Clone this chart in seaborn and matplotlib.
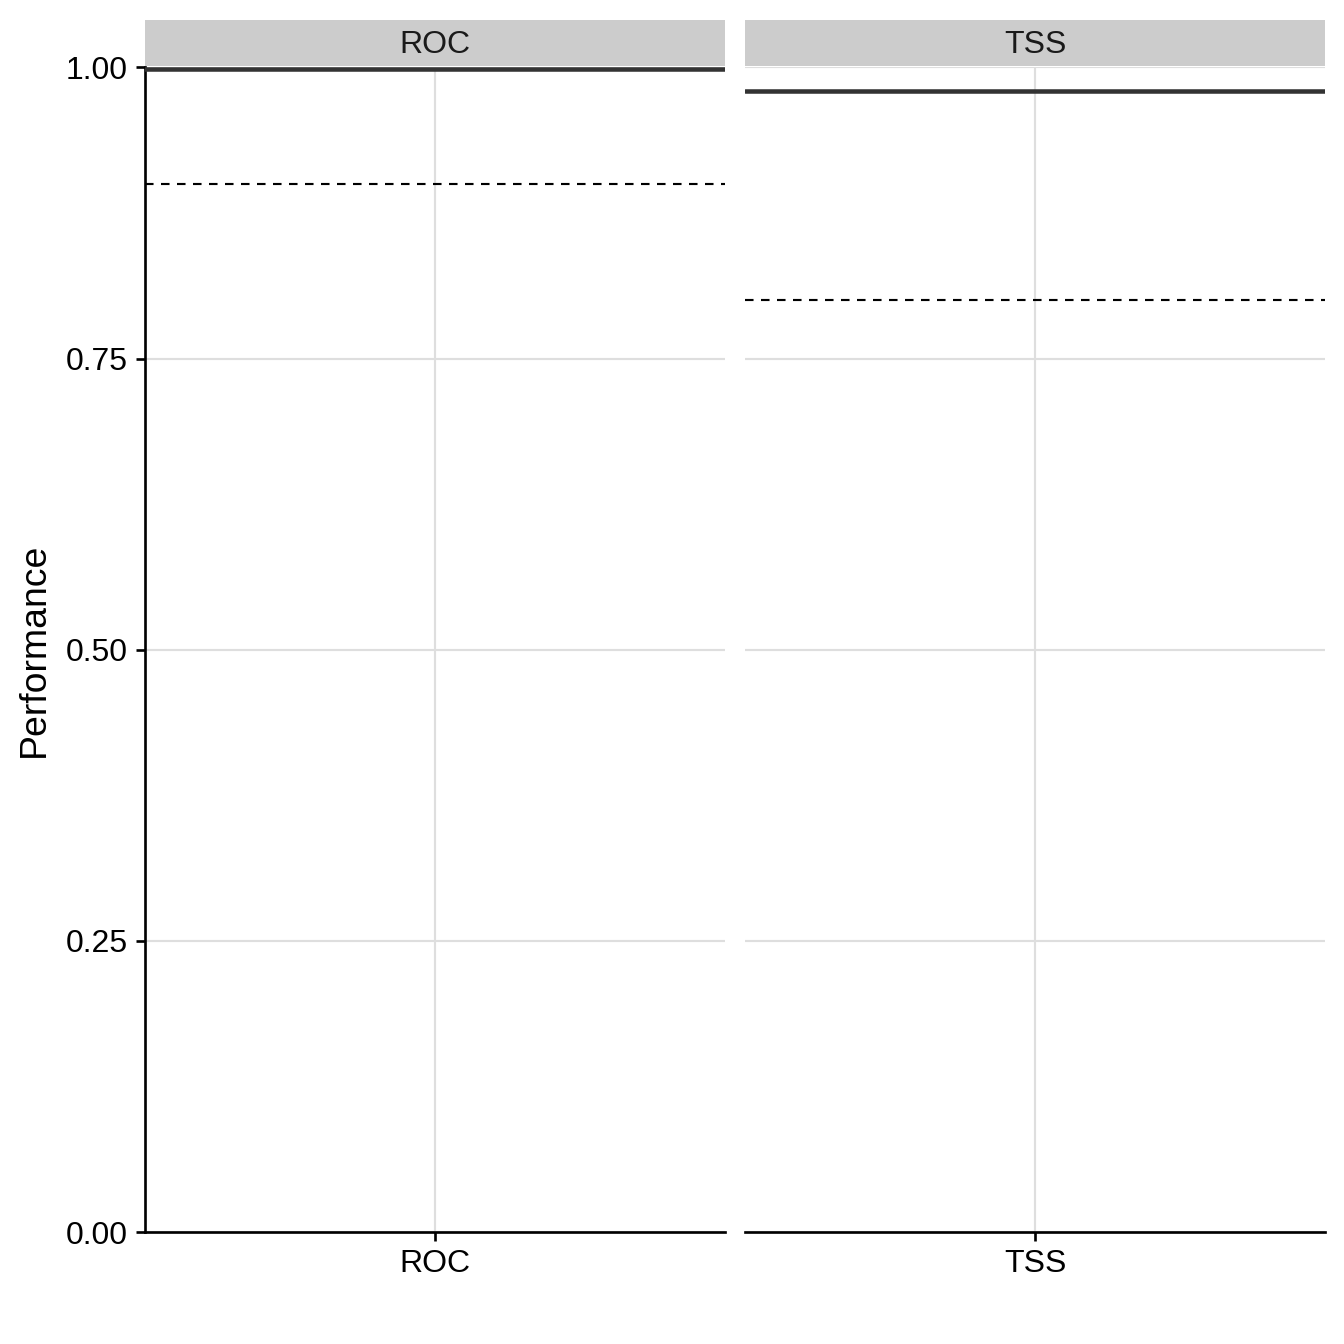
import pandas as pd
import matplotlib.pyplot as plt
import seaborn as sns
from matplotlib.patches import Rectangle

# data
metrics = ['ROC', 'TSS']
performance = [0.999, 0.980]   # solid line per metric
thresholds = [0.90, 0.80]      # dashed reference line per metric
y_ticks = [0.00, 0.25, 0.50, 0.75, 1.00]

df = pd.DataFrame({'metric': metrics, 'performance': performance, 'threshold': thresholds})

sns.set_theme(style='white')
plt.rcParams['font.family'] = ['Liberation Sans', 'DejaVu Sans']

g = sns.FacetGrid(df, col='metric', col_order=metrics, sharex=False, sharey=True,
                  height=7, aspect=0.5)


def draw_lines(data, **kws):
    ax = plt.gca()
    ax.axhline(data['threshold'].iloc[0], color='black', lw=0.8, ls=(0, (4, 3.5)), zorder=3)
    ax.axhline(data['performance'].iloc[0], color='#333333', lw=1.7, zorder=4)


g.map_dataframe(draw_lines)
g.figure.set_size_inches(7, 7)
g.figure.subplots_adjust(left=0.1079, right=0.9859, bottom=0.0833, top=0.9498, wspace=0.0345)

for i, (ax, name) in enumerate(zip(g.axes.flat, metrics)):
    ax.set_title('')
    ax.set_ylim(0, 1)
    ax.set_xlim(-0.5, 0.5)
    ax.set_xticks([0])
    ax.set_xticklabels([name])
    ax.set_yticks(y_ticks)
    ax.set_yticklabels([f'{v:.2f}' for v in y_ticks])
    ax.grid(True, color='#DEDEDE', lw=0.8)
    ax.set_axisbelow(True)
    ax.set_xlabel('')
    for s in ['top', 'right']:
        ax.spines[s].set_visible(False)
    ax.spines['bottom'].set_color('black')
    ax.spines['bottom'].set_linewidth(1.0)
    ax.tick_params(axis='x', length=3.5, width=1.0, color='black', pad=3,
                   labelsize=12, labelcolor='black', bottom=True, labelbottom=True)
    if i == 0:
        ax.spines['left'].set_color('black')
        ax.spines['left'].set_linewidth(1.0)
        ax.tick_params(axis='y', length=3.5, width=1.0, color='black', pad=3,
                       labelsize=12, labelcolor='black', left=True)
        ax.set_ylabel('Performance', fontsize=14, color='black', labelpad=5)
    else:
        ax.spines['left'].set_visible(False)
        ax.tick_params(axis='y', left=False, labelleft=False)
        ax.set_ylabel('')
    # ggplot-like strip on top of each panel
    ax.add_patch(Rectangle((0, 1.001), 1, 0.0395, transform=ax.transAxes,
                           facecolor='#CCCCCC', edgecolor='none', clip_on=False, zorder=5))
    ax.text(0.5, 1.0195, name, transform=ax.transAxes, ha='center', va='center',
            fontsize=12, color='#1A1A1A', zorder=6)

g.figure.savefig('out.png', dpi=192)
